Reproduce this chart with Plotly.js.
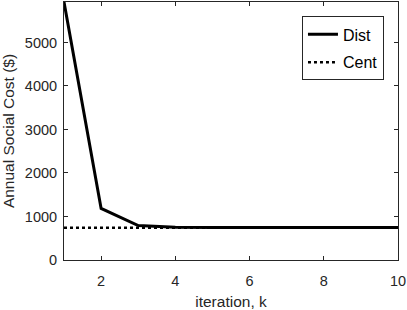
<!DOCTYPE html>
<html>
<head>
<meta charset="utf-8">
<script src="https://cdn.plot.ly/plotly-3.0.1.min.js"></script>
<style>html,body{margin:0;padding:0;background:#fff;}#chart{width:407px;height:310px;}</style>
</head>
<body>
<div id="chart"></div>
<script>
const iterations = [1, 2, 3, 4, 5, 6, 7, 8, 9, 10];
const distCost = [5930, 1185, 792, 752, 746, 745, 745, 745, 745, 745];
const centCost = [740, 740, 740, 740, 740, 740, 740, 740, 740, 740];
const xTickVals = [2, 4, 6, 8, 10];
const yTickVals = [0, 1000, 2000, 3000, 4000, 5000];

const font = 'Liberation Sans, Arial, sans-serif';
const axisColor = '#262626';

const traces = [
  {x: iterations, y: distCost, name: 'Dist', legendgroup: 'g1', mode: 'lines', line: {color: '#000', width: 3}},
  {x: iterations, y: centCost, name: 'Cent', legendgroup: 'g2', mode: 'lines', line: {color: '#000', width: 2.5, dash: 'dot'}}
];

const axisCommon = {
  showline: true, mirror: 'ticks', linecolor: axisColor, linewidth: 1,
  ticks: 'inside', ticklen: 4, tickcolor: axisColor, tickwidth: 1,
  showgrid: false, zeroline: false,
  tickfont: {family: font, size: 14.5, color: axisColor}
};

const layout = {
  width: 407, height: 310,
  margin: {l: 64, r: 9, t: 2, b: 50},
  paper_bgcolor: '#fff', plot_bgcolor: '#fff',
  showlegend: true,
  legend: {x: 0.958, y: 0.944, xanchor: 'right', yanchor: 'top',
    bordercolor: axisColor, borderwidth: 1, bgcolor: '#fff',
    font: {family: font, size: 16, color: '#000'}, itemwidth: 30,
    traceorder: 'grouped', tracegroupgap: 4},
  xaxis: Object.assign({}, axisCommon, {
    range: [1, 10], tickvals: xTickVals, ticktext: xTickVals.map(String),
    ticklabelstandoff: 8,
    title: {text: 'iteration, k', font: {family: font, size: 15.5, color: axisColor}, standoff: 8}
  }),
  yaxis: Object.assign({}, axisCommon, {
    range: [0, 5930], tickvals: yTickVals, ticktext: yTickVals.map(String),
    ticklabelstandoff: 3,
    title: {text: 'Annual Social Cost ($)', font: {family: font, size: 15.5, color: axisColor}, standoff: 6}
  })
};

Plotly.newPlot('chart', traces, layout, {displayModeBar: false, staticPlot: true});
</script>
</body>
</html>
